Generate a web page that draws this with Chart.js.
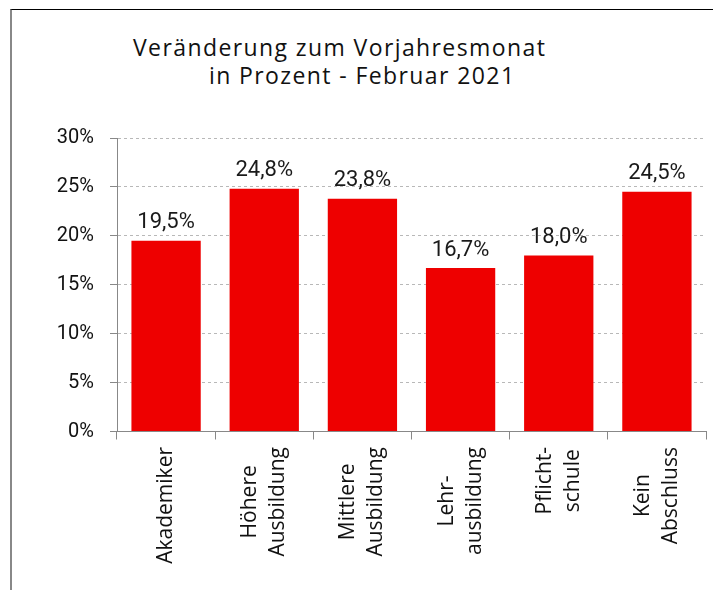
<!DOCTYPE html>
<html lang="de">
<head>
<meta charset="utf-8">
<title>Veränderung zum Vorjahresmonat</title>
<script src="https://cdn.jsdelivr.net/npm/chart.js@4.4.1/dist/chart.umd.min.js"></script>
<style>
  html, body { margin: 0; padding: 0; background: #fff; }
  #wrap { position: relative; width: 713px; height: 590px; overflow: hidden; }
  #frame {
    position: absolute; left: 10px; top: 9px; width: 760px; height: 640px;
    border-left: 2px solid #888; border-top: 1px solid #000;
  }
  .title {
    position: absolute; font-family: "Open Sans", sans-serif; font-size: 23px;
    letter-spacing: 1.4px; color: #111; white-space: nowrap; line-height: 1;
  }
  #chart { position: absolute; left: 0; top: 0; }
</style>
</head>
<body>
<div id="wrap">
  <div id="frame"></div>
  <div class="title" style="left:133px; top:36px;">Veränderung zum Vorjahresmonat</div>
  <div class="title" style="left:209px; top:64px;">in Prozent - Februar 2021</div>
  <canvas id="chart" width="713" height="590"></canvas>
</div>

<script>
// Daten
const categories = [
    ['Akademiker'],
    ['Höhere', 'Ausbildung'],
    ['Mittlere', 'Ausbildung'],
    ['Lehr-', 'ausbildung'],
    ['Pflicht-', 'schule'],
    ['Kein', 'Abschluss']
];
const values = [19.5, 24.8, 23.8, 16.7, 18.0, 24.5];
const yTicks = [0, 5, 10, 15, 20, 25, 30];

const formatPct = v => v.toFixed(1).replace('.', ',') + '%';

// Werte über den Balken
const valueLabels = {
    id: 'valueLabels',
    afterDatasetsDraw(chart) {
        const ctx = chart.ctx;
        const meta = chart.getDatasetMeta(0);
        ctx.save();
        ctx.font = '22px Roboto';
        ctx.fillStyle = '#1a1a1a';
        ctx.textAlign = 'center';
        ctx.textBaseline = 'alphabetic';
        meta.data.forEach((bar, i) => {
            ctx.fillText(formatPct(values[i]), bar.x, bar.y - 12.5);
        });
        ctx.restore();
    }
};

// Kategorien senkrecht, Zeilen zentriert
const categoryLabels = {
    id: 'categoryLabels',
    afterDraw(chart) {
        const ctx = chart.ctx;
        const xs = chart.scales.x;
        const top = xs.top + 15.5;
        ctx.save();
        ctx.font = '21px "Open Sans"';
        ctx.fillStyle = '#111';
        ctx.textAlign = 'center';
        ctx.textBaseline = 'alphabetic';
        categories.forEach((lines, i) => {
            const cx = xs.getPixelForValue(i);
            const w = Math.max(...lines.map(l => ctx.measureText(l).width));
            ctx.save();
            ctx.translate(cx, top);
            ctx.rotate(-Math.PI / 2);
            lines.forEach((line, j) => {
                ctx.fillText(line, -w / 2, (j - (lines.length - 1) / 2) * 28 + 6);
            });
            ctx.restore();
        });
        ctx.restore();
    }
};

new Chart(document.getElementById('chart'), {
    type: 'bar',
    data: {
        labels: categories.map(c => c.join(' ')),
        datasets: [{
            data: values,
            backgroundColor: '#ee0000',
            borderWidth: 0,
            barPercentage: 0.706,
            categoryPercentage: 1
        }]
    },
    options: {
        responsive: false,
        animation: false,
        layout: { padding: { top: 138, right: 7, left: 0, bottom: 0 } },
        plugins: {
            legend: { display: false },
            tooltip: { enabled: false },
            title: { display: false }
        },
        scales: {
            x: {
                grid: { display: true, drawOnChartArea: false, offset: true, tickLength: 8, color: '#888', tickColor: '#888' },
                border: { display: true, color: '#888', width: 1 },
                ticks: { display: false },
                afterFit: s => { s.height = 158.5; }
            },
            y: {
                min: 0,
                max: 30,
                afterBuildTicks: s => { s.ticks = yTicks.map(v => ({ value: v })); },
                ticks: {
                    padding: 16,
                    color: '#111',
                    font: { family: 'Roboto', size: 20 },
                    callback: v => v + '%'
                },
                grid: { color: '#b8b8b8', tickColor: '#888', tickLength: 7 },
                border: { display: true, color: '#888', width: 1, dash: [3, 3] },
                afterFit: s => { s.width = 117; }
            }
        }
    },
    plugins: [valueLabels, categoryLabels]
});
</script>
</body>
</html>
